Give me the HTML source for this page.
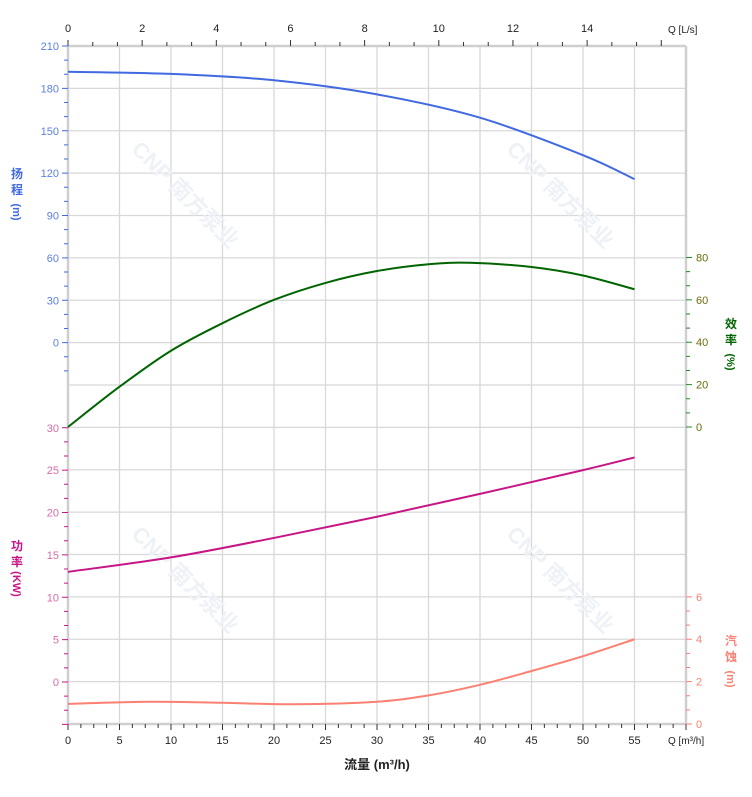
<!DOCTYPE html>
<html><head><meta charset="utf-8"><style>
html,body{margin:0;padding:0;background:#fff;}
svg{display:block;font-family:"Liberation Sans","Noto Sans CJK SC",sans-serif;}
</style></head><body>
<svg id="s" width="752" height="797" xmlns="http://www.w3.org/2000/svg"></svg>
<script>
const s=document.getElementById('s');let h='';
const X0=68,X1=686,Y0=46,Y1=724,step=42.375;
const px=q=>X0+q*(X1-X0)/60;
for(let i=1;i<16;i++){const y=Y0+i*step;h+=`<line x1="${X0}" x2="${X1}" y1="${y}" y2="${y}" stroke="#d8d8d8" stroke-width="1.3"/>`;}
for(let q=5;q<60;q+=5){h+=`<line x1="${px(q)}" x2="${px(q)}" y1="${Y0}" y2="${Y1}" stroke="#d8d8d8" stroke-width="1.3"/>`;}
[[180,200],[555,200],[180,585],[555,585]].forEach(([x,y])=>{h+=`<text x="${x}" y="${y}" transform="rotate(45 ${x} ${y})" text-anchor="middle" font-size="22" font-weight="bold" fill="#eef2f7">CNP 南方泵业</text>`;});
h+=`<line x1="${X0}" x2="${X1}" y1="${Y0}" y2="${Y0}" stroke="#cfcfcf" stroke-width="2.5"/>`;
h+=`<line x1="${X0}" x2="${X1}" y1="${Y1}" y2="${Y1}" stroke="#cfcfcf" stroke-width="2.5"/>`;
h+=`<line x1="${X0}" x2="${X0}" y1="${Y0}" y2="${Y1}" stroke="#cfcfcf" stroke-width="2.5"/>`;
h+=`<line x1="${X1}" x2="${X1}" y1="${Y0}" y2="${Y1}" stroke="#cfcfcf" stroke-width="2.5"/>`;
for(let i=0;i<=48;i++){const q=i*1.25,x=px(q),maj=i%4==0;h+=`<line x1="${x}" x2="${x}" y1="${Y1}" y2="${Y1+(maj?6:4)}" stroke="#333"/>`;if(maj&&q<=55)h+=`<text x="${x}" y="${Y1+20}" font-size="11" text-anchor="middle" fill="#222">${q}</text>`;}
h+=`<text x="668" y="744" font-size="10" fill="#222">Q [m³/h]</text>`;
h+=`<text x="377" y="769" font-size="13" font-weight="bold" text-anchor="middle" fill="#222">流量 (m³/h)</text>`;
for(let i=0;i*2/3<=16.6;i++){const l=i*2/3,x=px(l*3.6),maj=i%3==0;h+=`<line x1="${x}" x2="${x}" y1="${Y0}" y2="${Y0-(maj?6:4)}" stroke="#333"/>`;if(maj&&l<=14.01)h+=`<text x="${x}" y="${Y0-14}" font-size="11" text-anchor="middle" fill="#222">${Math.round(l)}</text>`;}
h+=`<text x="668" y="33" font-size="10" fill="#222">Q [L/s]</text>`;
for(let i=0;i<=23;i++){const y=Y0+i*step/3,maj=i%3==0;h+=`<line x1="${X0}" x2="${X0-(maj?6:4)}" y1="${y}" y2="${y}" stroke="#4169e1"/>`;if(maj&&i<=21)h+=`<text x="${X0-9}" y="${y+4}" font-size="11" text-anchor="end" fill="#5b7fe8">${210-i*10}</text>`;}
for(let i=-3;i<=18;i++){const p=i*5/3,y=682-p*8.475,maj=i%3==0;h+=`<line x1="${X0}" x2="${X0-(maj?6:4)}" y1="${y}" y2="${y}" stroke="#c71585"/>`;if(maj&&p>=0)h+=`<text x="${X0-9}" y="${y+4}" font-size="11" text-anchor="end" fill="#d86aa8">${Math.round(p)}</text>`;}
for(let i=0;i<=12;i++){const e=i*20/3,y=427-e*2.119,maj=i%3==0;h+=`<line x1="${X1}" x2="${X1+(maj?6:4)}" y1="${y}" y2="${y}" stroke="#228b22"/>`;if(maj)h+=`<text x="${X1+10}" y="${y+4}" font-size="11" fill="#6b6b10">${Math.round(e)}</text>`;}
for(let i=0;i<=9;i++){const n=i*2/3,y=724-n*21.19,maj=i%3==0;h+=`<line x1="${X1}" x2="${X1+(maj?6:4)}" y1="${y}" y2="${y}" stroke="#fa8072"/>`;if(maj)h+=`<text x="${X1+10}" y="${y+4}" font-size="11" fill="#fa8072">${Math.round(n)}</text>`;}
function vt(x,y,t,c,k){h+=`<text x="${x}" y="${y}" font-size="12" font-weight="bold" fill="${c}" text-anchor="middle">${t[0]}</text><text x="${x}" y="${y+16}" font-size="12" font-weight="bold" fill="${c}" text-anchor="middle">${t[1]}</text><text x="${x}" y="${y+38}" transform="rotate(90 ${x} ${y+34})" font-size="11" font-weight="bold" fill="${c}" text-anchor="middle">(${k})</text>`;}
vt(17,178,'扬程','#4169e1','m');vt(17,550,'功率','#c71585','KW');vt(731,328,'效率','#006400','%');vt(731,645,'汽蚀','#fa8072','m');
function curve(pts,f,c){const P=pts.map(([q,v])=>[px(q),f(v)]);let d=`M${P[0][0]},${P[0][1]}`;for(let i=0;i<P.length-1;i++){const p0=P[i-1]||P[i],p1=P[i],p2=P[i+1],p3=P[i+2]||p2;d+=` C${p1[0]+(p2[0]-p0[0])/6},${p1[1]+(p2[1]-p0[1])/6} ${p2[0]-(p3[0]-p1[0])/6},${p2[1]-(p3[1]-p1[1])/6} ${p2[0]},${p2[1]}`;}h+=`<path d="${d}" fill="none" stroke="${c}" stroke-width="2"/>`;}
curve([[0,192],[10,190.5],[20,186],[30,176],[40,159.5],[50,133],[55,116]],v=>343-v*1.4125,'#4169e1');
curve([[0,0],[5,19],[10,36],[15,49],[20,60],[25,68],[30,73.6],[35,76.8],[39,77.5],[45,75.5],[50,71.5],[55,65]],v=>427-v*2.119,'#006400');
curve([[0,13],[10,14.7],[20,17],[30,19.5],[40,22.2],[50,25],[55,26.5]],v=>682-v*8.475,'#c71585');
curve([[0,0.95],[8,1.05],[15,1.0],[22,0.93],[30,1.05],[35,1.35],[40,1.85],[45,2.5],[50,3.2],[55,4]],v=>724-v*21.19,'#fa8072');
s.innerHTML=h;
</script>
</body></html>
